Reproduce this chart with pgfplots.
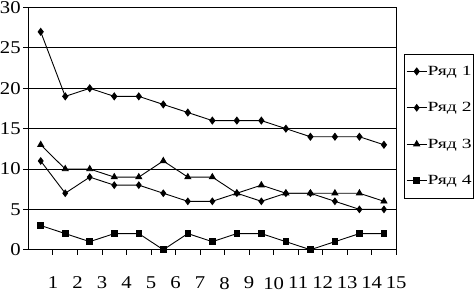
\documentclass[border=0pt]{standalone}
\usepackage{fontspec}
\setmainfont{Liberation Serif}
\newfontfamily\tickfont[FakeStretch=1.15]{Liberation Serif}
\newfontfamily\legfont[FakeStretch=1.4]{Liberation Serif}
\usepackage{pgfplots}
\pgfplotsset{compat=1.18}
\begin{document}
\begin{tikzpicture}
\begin{axis}[
  scale only axis,
  width=366bp, height=241bp,
  xmin=0, xmax=15, ymin=0, ymax=30,
  xtick={1,...,15},
  ytick={0,5,...,30},
  ymajorgrids, grid style={black, line width=1pt},
  axis line style={black, line width=1pt},
  tick align=outside, major tick length=5bp,
  tick style={black, line width=1pt},
  xtick pos=bottom, ytick pos=left,
  /pgf/number format/assume math mode=true,
  tick label style={font=\tickfont\fontsize{18}{18}\selectfont, inner sep=0pt},
  xticklabel style={yshift=-19bp, inner ysep=3bp},
  yticklabel style={xshift=-2.5bp, inner ysep=1.5bp},
  every axis plot/.append style={black, line width=0.9pt, mark options={fill=black, solid}},
  legend style={at={(1.022,0.81)}, anchor=north west, draw=black, line width=0.8pt,
    font=\legfont\fontsize{14}{14}\selectfont, row sep=21.5bp, inner xsep=1.5bp, inner ysep=10bp,
    cells={anchor=west}, nodes={inner xsep=0.5bp}},
  legend image code/.code={\draw[#1] (0bp,0bp) -- (20bp,0bp); \draw[#1, only marks] plot coordinates {(10bp,0bp)};},
]
\addplot[mark=diamond*, mark size=3.4pt] coordinates {(0.5,27)(1.5,19)(2.5,20)(3.5,19)(4.5,19)(5.5,18)(6.5,17)(7.5,16)(8.5,16)(9.5,16)(10.5,15)(11.5,14)(12.5,14)(13.5,14)(14.5,13)};
\addlegendentry{Ряд 1}
\addplot[mark=diamond*, mark size=3.2pt] coordinates {(0.5,11)(1.5,7)(2.5,9)(3.5,8)(4.5,8)(5.5,7)(6.5,6)(7.5,6)(8.5,7)(9.5,6)(10.5,7)(11.5,7)(12.5,6)(13.5,5)(14.5,5)};
\addlegendentry{Ряд 2}
\addplot[mark=triangle*, mark size=3.4pt] coordinates {(0.5,13)(1.5,10)(2.5,10)(3.5,9)(4.5,9)(5.5,11)(6.5,9)(7.5,9)(8.5,7)(9.5,8)(10.5,7)(11.5,7)(12.5,7)(13.5,7)(14.5,6)};
\addlegendentry{Ряд 3}
\addplot[mark=square*, mark size=2.8pt] coordinates {(0.5,3)(1.5,2)(2.5,1)(3.5,2)(4.5,2)(5.5,0)(6.5,2)(7.5,1)(8.5,2)(9.5,2)(10.5,1)(11.5,0)(12.5,1)(13.5,2)(14.5,2)};
\addlegendentry{Ряд 4}
\end{axis}
\end{tikzpicture}
\end{document}
